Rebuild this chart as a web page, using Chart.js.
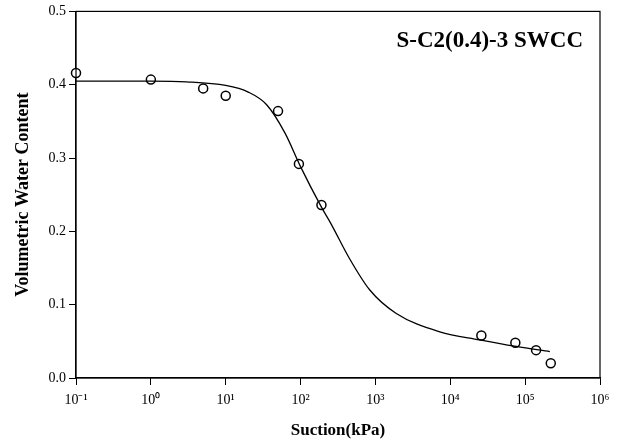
<!DOCTYPE html>
<html>
<head>
<meta charset="utf-8">
<script src="https://cdn.jsdelivr.net/npm/chart.js@4.4.1/dist/chart.umd.min.js"></script>
<style>
  html, body { margin: 0; padding: 0; background: #fff; }
  #wrap { width: 621px; height: 441px; }
</style>
</head>
<body>
<div id="wrap"><canvas id="swccChart" width="621" height="441"></canvas></div>
<script>
// measured points (suction kPa, volumetric water content)
const suction = [0.1, 1, 5, 10, 50, 95, 190, 26000, 74000, 140000, 220000];
const waterContent = [0.416, 0.407, 0.395, 0.385, 0.364, 0.292, 0.236, 0.058, 0.048, 0.038, 0.020];

// fitted curve
const fitSuction = [0.1, 1, 3, 10, 20, 35, 62, 98, 190, 250, 450, 841, 1900, 7240, 24600, 76000, 214000];
const fitWater = [0.405, 0.405, 0.404, 0.399, 0.390, 0.373, 0.334, 0.290, 0.233, 0.212, 0.163, 0.120, 0.088, 0.063, 0.052, 0.043, 0.036];

const xTicks = [0.1, 1, 10, 100, 1000, 10000, 100000, 1000000];
const xTickLabels = ['10⁻¹', '10⁰', '10¹', '10²', '10³', '10⁴', '10⁵', '10⁶'];
const yTicks = [0, 0.1, 0.2, 0.3, 0.4, 0.5];

const chartTitle = 'S-C2(0.4)-3 SWCC';
const serif = '"Liberation Serif", "Times New Roman", serif';

// frame + title inside the plot
const framePlugin = {
    id: 'frame',
    afterDraw(chart) {
        const { ctx, chartArea: a } = chart;
        ctx.save();
        ctx.strokeStyle = '#000';
        ctx.lineWidth = 1.2;
        ctx.strokeRect(a.left, a.top, a.right - a.left, a.bottom - a.top);
        ctx.fillStyle = '#000';
        ctx.font = 'bold 23px ' + serif;
        ctx.textAlign = 'right';
        ctx.textBaseline = 'middle';
        ctx.fillText(chartTitle, a.right - 17, a.top + 30);
        ctx.restore();
    }
};

new Chart(document.getElementById('swccChart').getContext('2d'), {
    type: 'scatter',
    data: {
        datasets: [{
            label: 'fit',
            data: fitSuction.map((x, i) => ({ x: x, y: fitWater[i] })),
            showLine: true,
            borderColor: '#000',
            borderWidth: 1.3,
            pointRadius: 0,
            cubicInterpolationMode: 'monotone',
            fill: false
        }, {
            label: 'measured',
            data: suction.map((x, i) => ({ x: x, y: waterContent[i] })),
            pointStyle: 'circle',
            pointRadius: 4.5,
            pointBorderWidth: 1.5,
            pointBorderColor: '#000',
            pointBackgroundColor: '#fff',
            clip: false
        }]
    },
    options: {
        responsive: false,
        animation: false,
        layout: { padding: { left: 0, right: 21, top: 11, bottom: 0 } },
        plugins: {
            legend: { display: false },
            tooltip: { enabled: false }
        },
        scales: {
            x: {
                type: 'logarithmic',
                min: 0.1,
                max: 1000000,
                afterBuildTicks: scale => { scale.ticks = xTicks.map(v => ({ value: v })); },
                afterFit: scale => { scale.height = 63; },
                grid: { drawOnChartArea: false, drawTicks: true, tickLength: 7, color: '#000', lineWidth: 1 },
                border: { display: true, color: '#000', width: 1.2 },
                ticks: {
                    color: '#000',
                    font: { family: serif, size: 14 },
                    padding: 7,
                    maxRotation: 0,
                    autoSkip: false,
                    callback: (v, i) => xTickLabels[i]
                },
                title: {
                    display: true,
                    text: 'Suction(kPa)',
                    color: '#000',
                    font: { family: serif, size: 17, weight: 'bold' },
                    padding: { top: 0, bottom: 0 }
                }
            },
            y: {
                min: 0,
                max: 0.5,
                afterBuildTicks: scale => { scale.ticks = yTicks.map(v => ({ value: v })); },
                afterFit: scale => { scale.width = 76; },
                grid: { drawOnChartArea: false, drawTicks: true, tickLength: 7, color: '#000', lineWidth: 1 },
                border: { display: true, color: '#000', width: 1.2 },
                ticks: {
                    color: '#000',
                    font: { family: serif, size: 14 },
                    padding: 3,
                    callback: v => v.toFixed(1)
                },
                title: {
                    display: true,
                    text: 'Volumetric Water Content',
                    color: '#000',
                    font: { family: serif, size: 18, weight: 'bold' },
                    padding: { top: 13, bottom: 4 }
                }
            }
        }
    },
    plugins: [framePlugin]
});
</script>
</body>
</html>
